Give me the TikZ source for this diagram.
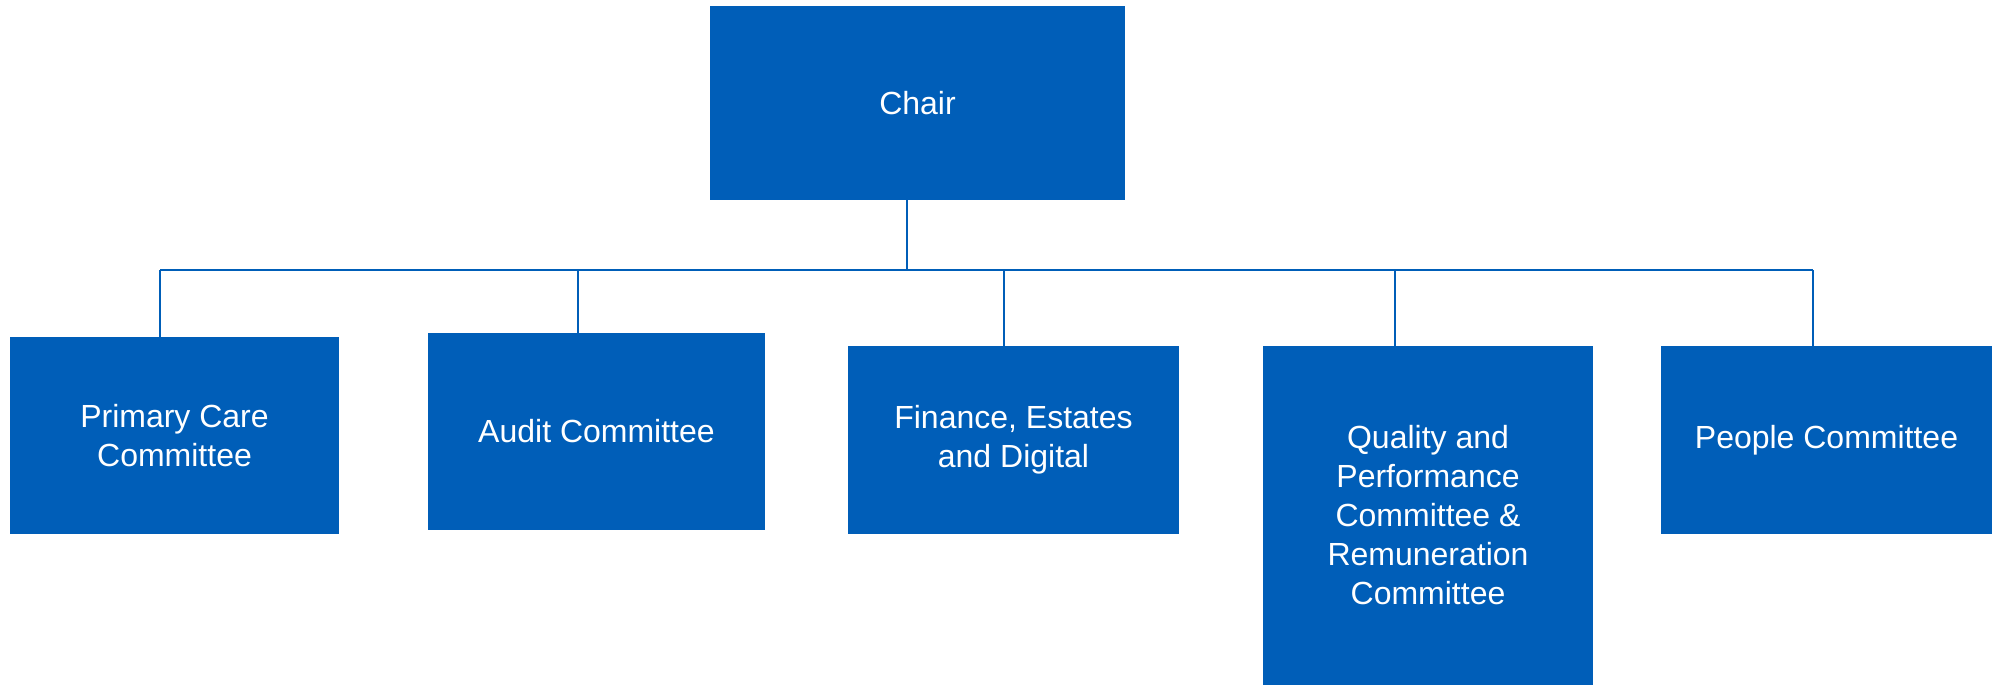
\documentclass[tikz,border=0pt]{standalone}
\usepackage{fontspec}
\setmainfont{Liberation Sans}
\definecolor{nhsblue}{HTML}{005EB8}
\begin{document}
\begin{tikzpicture}[x=1pt,y=-1pt,
  orgbox/.style={rectangle, fill=nhsblue, draw=none, inner sep=0pt, text=white,
    align=center, font=\fontsize{32}{39}\selectfont},
  link/.style={draw=nhsblue, line width=1.8pt}]
\useasboundingbox (0,0) rectangle (1993,685);
\node[orgbox, minimum width=415pt, minimum height=194pt] (chair) at (917.5,103) {Chair};
\node[orgbox, minimum width=329pt, minimum height=197pt] (pc) at (174.5,435.5) {Primary Care\\Committee};
\node[orgbox, minimum width=337pt, minimum height=197pt] (audit) at (596.5,431.5) {Audit Committee};
\node[orgbox, minimum width=331pt, minimum height=188pt] (fin) at (1013.5,440) {Finance, Estates\\and Digital};
\node[orgbox, minimum width=330pt, minimum height=339pt] (qual) at (1428,515.5) {Quality and\\Performance\\Committee \&\\Remuneration\\Committee};
\node[orgbox, minimum width=331pt, minimum height=188pt] (people) at (1826.5,440) {People Committee};
\coordinate (b0) at (907,270);
\coordinate (b1) at (160,270);
\coordinate (b2) at (578,270);
\coordinate (b3) at (1004,270);
\coordinate (b4) at (1395,270);
\coordinate (b5) at (1813,270);
\draw[link] (b0 |- chair.south) -- (b0);
\draw[link] (b1) -- (b5);
\draw[link] (b1) -- (b1 |- pc.north);
\draw[link] (b2) -- (b2 |- audit.north);
\draw[link] (b3) -- (b3 |- fin.north);
\draw[link] (b4) -- (b4 |- qual.north);
\draw[link] (b5) -- (b5 |- people.north);
\end{tikzpicture}
\end{document}
